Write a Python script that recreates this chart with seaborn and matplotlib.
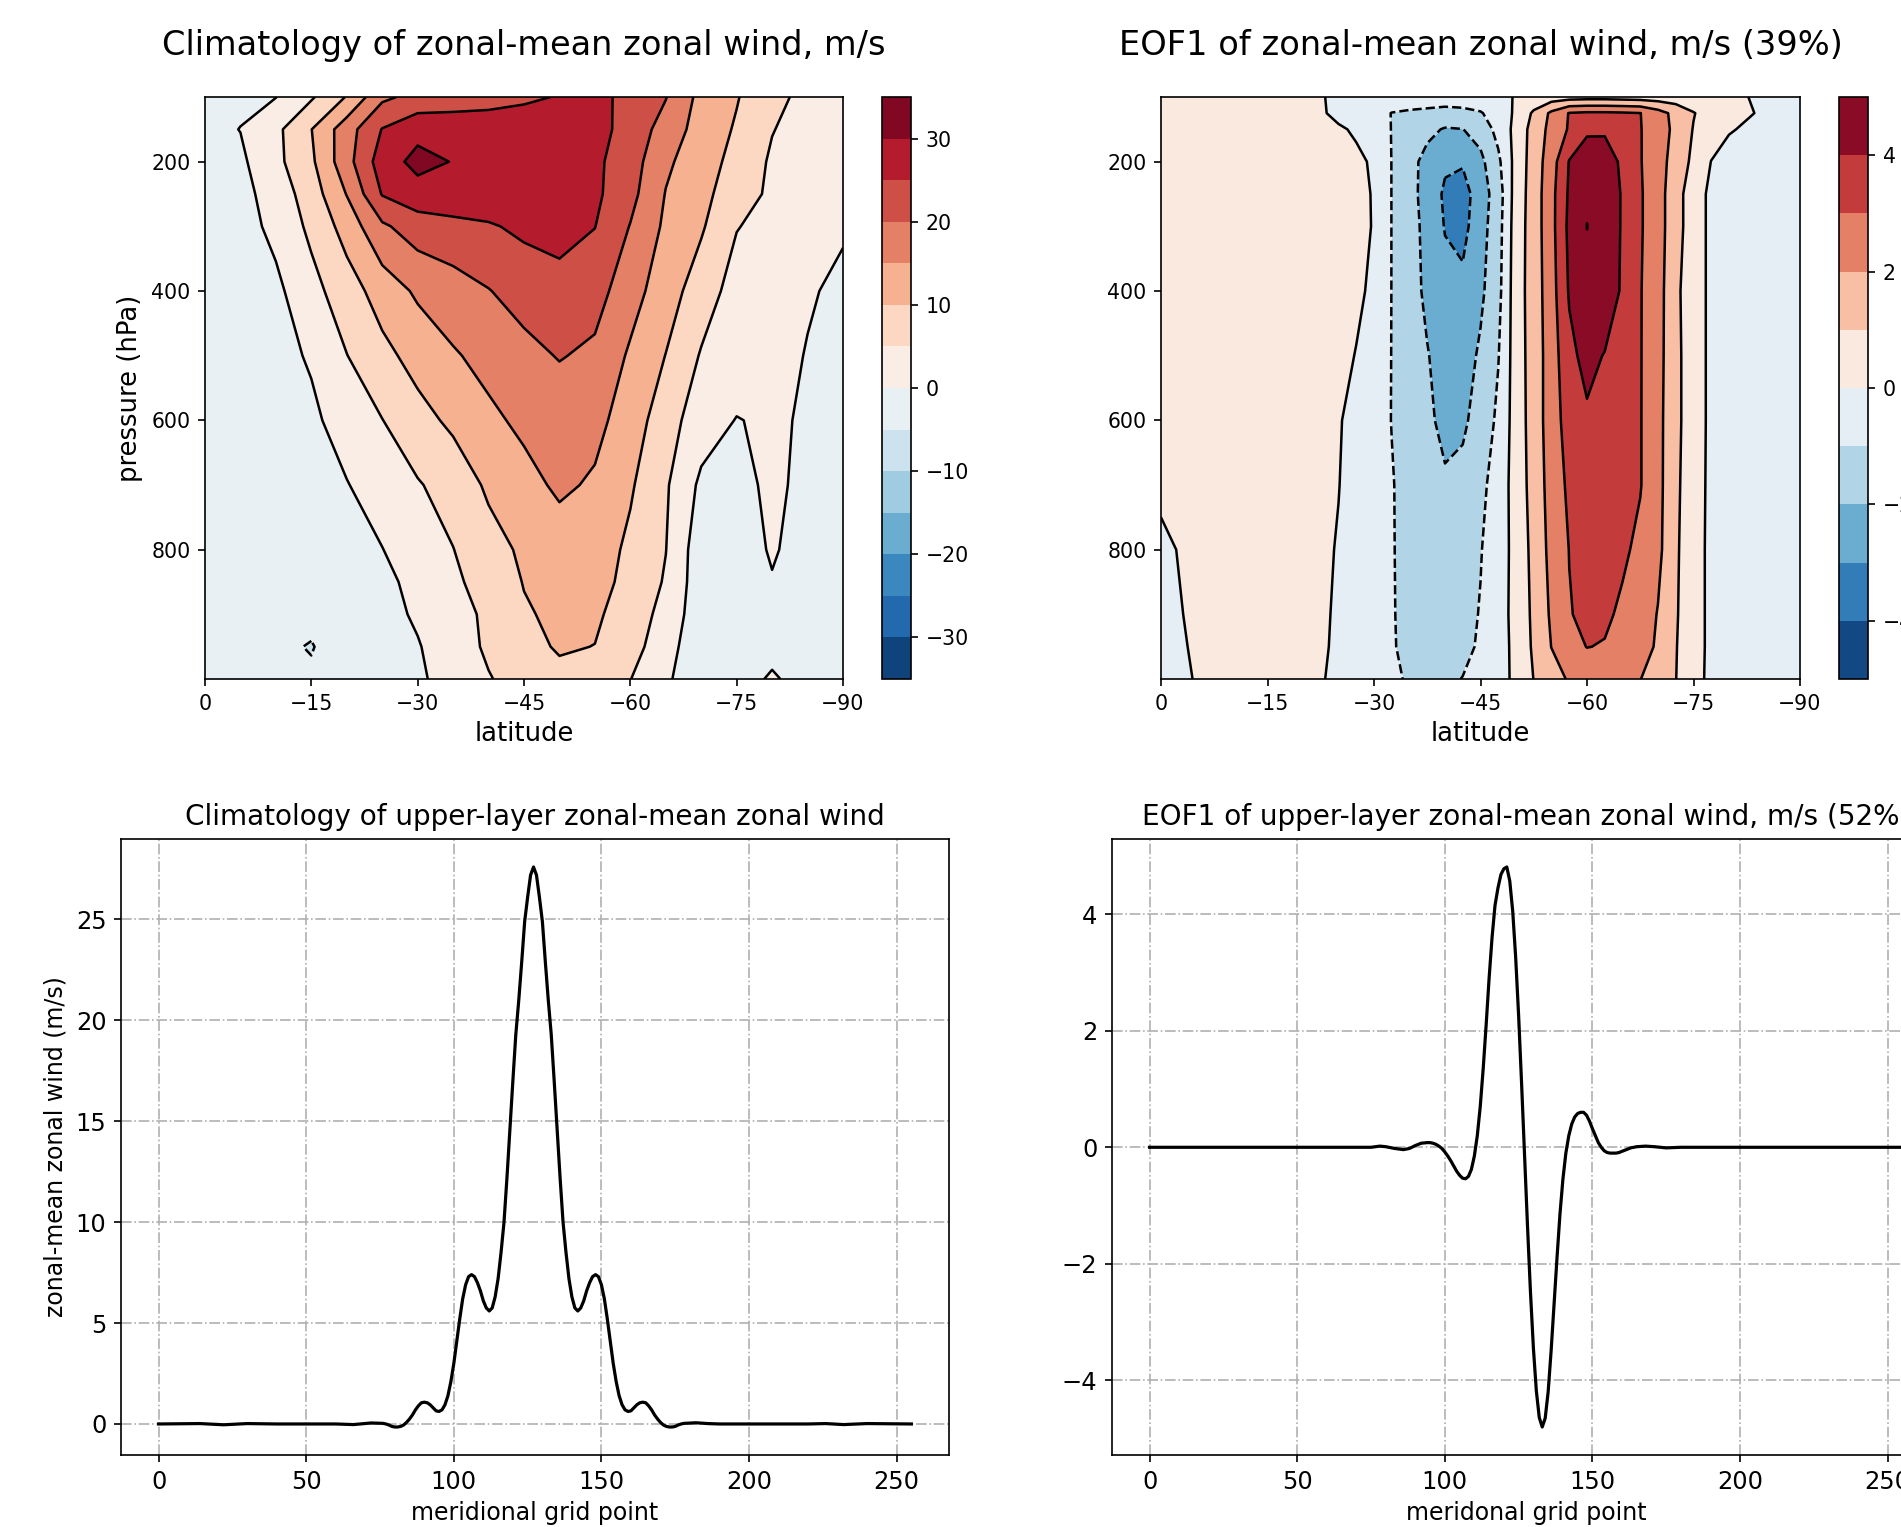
import matplotlib
matplotlib.use("Agg")
import matplotlib.pyplot as plt
import seaborn as sns

# climatology of zonal-mean zonal wind (m/s), rows = pressure, cols = latitude
clim_lat = [0, -5, -10, -15, -20, -25, -30, -35, -40, -45, -50, -55, -60, -65, -70, -75, -80, -85, -90]
clim_p = [100, 150, 200, 250, 300, 400, 500, 600, 700, 800, 850, 900, 950, 1000]
clim_u = [
    [-2.0, -1.0, -0.1, 4.4, 10.3, 19.0, 21.5, 22.0, 23.0, 24.1, 25.3, 26.0, 24.0, 20.2, 13.5, 10.3, 6.5, 3.5, 2.0],
    [-1.5, 0.1, 3.8, 9.9, 17.8, 25.2, 28.5, 28.5, 28.0, 28.0, 28.0, 27.0, 22.9, 18.1, 12.8, 9.5, 5.2, 3.0, 1.5],
    [-2.5, -0.9, 3.7, 9.1, 18.2, 27.5, 31.5, 29.8, 28.5, 28.0, 27.5, 26.0, 22.3, 15.9, 12.15, 8.5, 4.3, 2.5, 1.0],
    [-3.0, -1.5, 2.1, 7.5, 15.2, 25.3, 28.0, 28.5, 28.2, 28.0, 27.5, 26.0, 21.5, 14.8, 11.3, 7.5, 4.0, 2.2, 0.8],
    [-3.5, -2.0, 1.3, 6.1, 12.0, 19.2, 22.5, 23.5, 24.5, 26.0, 26.5, 25.1, 19.8, 14.1, 10.6, 5.2, 3.5, 1.8, 0.4],
    [-4.0, -2.8, -1.1, 3.4, 7.7, 12.2, 15.8, 17.8, 19.8, 22.0, 23.5, 22.0, 17.0, 12.3, 7.5, 3.0, 2.2, 0.4, -0.8],
    [-4.5, -3.3, -1.5, 0.5, 4.9, 8.6, 11.8, 14.5, 16.5, 18.5, 20.3, 19.0, 14.3, 9.9, 4.6, 3.0, 1.4, -0.2, -1.5],
    [-4.8, -3.8, -2.2, -0.9, 2.0, 4.9, 8.3, 11.0, 14.0, 16.0, 17.0, 16.3, 12.8, 7.0, 2.5, -0.2, 0.8, -0.6, -1.8],
    [-4.8, -4.2, -3.0, -1.8, -0.2, 2.2, 4.6, 7.0, 10.8, 13.5, 15.8, 14.4, 10.6, 5.6, -1.0, -1.2, 0.8, -1.0, -2.0],
    [-4.8, -4.5, -3.8, -2.8, -1.3, -0.1, 2.5, 4.9, 8.2, 10.8, 12.8, 12.5, 9.0, 5.1, -3.0, -2.5, 0.5, -2.0, -2.5],
    [-4.8, -4.8, -4.2, -3.5, -2.3, -1.2, 1.4, 4.1, 7.0, 10.2, 11.8, 11.5, 8.8, 4.5, -3.0, -2.8, -0.3, -2.5, -3.0],
    [-4.8, -4.8, -4.5, -4.3, -3.0, -1.5, 0.6, 3.0, 6.0, 9.5, 11.0, 11.0, 7.0, 3.8, -3.5, -3.5, -2.0, -3.0, -3.5],
    [-4.8, -4.8, -4.5, -5.15, -3.5, -1.8, -0.3, 2.5, 5.8, 8.2, 10.6, 9.9, 7.0, 2.0, -3.5, -3.5, -2.5, -3.2, -3.5],
    [-4.8, -4.8, -4.7, -4.6, -3.8, -2.3, -0.8, 2.0, 4.7, 7.0, 8.5, 8.6, 5.1, 0.8, -3.5, -3.5, 1.0, -3.3, -3.5],
]
clim_levels = [-35, -30, -25, -20, -15, -10, -5, 0, 5, 10, 15, 20, 25, 30, 35]
clim_ticks = [-30, -20, -10, 0, 10, 20, 30]

# EOF1 of zonal-mean zonal wind (m/s)
eof_lat = [0, -5, -10, -15, -20, -22.5, -25, -27.5, -30, -32.5, -35, -37.5, -40, -42.5, -45, -47.5,
           -50, -52.5, -55, -57.5, -60, -62.5, -65, -67.5, -70, -72.5, -75, -77.5, -80, -85, -90]
eof_p = [100, 125, 150, 200, 250, 300, 400, 500, 600, 700, 800, 900, 950, 1000]
eof_u = [
    [0.3, 0.4, 0.5, 0.5, 0.3, 0.05, -0.15, -0.3, -0.4, -0.5, -0.6, -0.65, -0.7, -0.7, -0.6, -0.4,
     0.1, 0.35, 0.5, 0.6, 0.65, 0.65, 0.6, 0.55, 0.5, 0.45, 0.35, 0.25, 0.12, -0.1, -0.15],
    [0.3, 0.4, 0.5, 0.5, 0.3, 0.1, -0.2, -0.45, -0.7, -1.02, -1.1, -1.15, -1.2, -1.15, -1.05, -0.7,
     0.2, 1.15, 2.2, 3.05, 3.15, 3.15, 3.1, 3.02, 2.4, 1.7, 1.05, 0.55, 0.25, -0.1, -0.15],
    [0.3, 0.4, 0.5, 0.5, 0.35, 0.2, 0.1, -0.1, -0.6, -1.02, -1.4, -1.7, -2.1, -2.02, -1.6, -0.7,
     0.3, 1.4, 2.3, 3.1, 3.8, 3.85, 3.6, 3.05, 2.4, 1.8, 0.95, 0.5, 0.05, -0.2, -0.2],
    [0.3, 0.4, 0.5, 0.5, 0.4, 0.3, 0.2, 0.15, -0.1, -1.02, -1.6, -2.4, -2.85, -2.9, -2.25, -1.2,
     0.35, 1.45, 2.55, 4.05, 4.7, 4.55, 3.8, 3.05, 2.45, 1.55, 0.8, -0.02, -0.25, -0.25, -0.2],
    [0.3, 0.4, 0.5, 0.5, 0.4, 0.3, 0.2, 0.12, -0.03, -1.02, -1.65, -2.4, -3.15, -3.4, -2.5, -1.5,
     0.45, 1.45, 2.7, 4.15, 4.95, 4.75, 3.9, 3.1, 2.4, 1.4, 0.45, -0.2, -0.3, -0.25, -0.2],
    [0.3, 0.4, 0.5, 0.5, 0.4, 0.3, 0.2, 0.1, -0.02, -1.02, -1.6, -2.3, -3.05, -3.3, -2.4, -1.4,
     0.5, 1.46, 2.69, 4.24, 5.005, 4.7, 3.9, 3.1, 2.4, 1.4, 0.45, -0.2, -0.3, -0.25, -0.2],
    [0.3, 0.4, 0.5, 0.5, 0.4, 0.3, 0.2, 0.1, -0.1, -1.02, -1.6, -2.2, -2.7, -2.75, -2.2, -1.3,
     0.55, 1.45, 2.6, 4.1, 4.9, 4.7, 3.85, 3.05, 2.4, 1.2, 0.45, -0.2, -0.3, -0.25, -0.2],
    [0.3, 0.4, 0.5, 0.5, 0.4, 0.3, 0.15, -0.02, -0.4, -1.02, -1.5, -1.95, -2.4, -2.45, -1.85, -1.05,
     0.5, 1.45, 2.5, 3.75, 4.3, 3.95, 3.6, 3.05, 2.35, 1.25, 0.45, -0.2, -0.3, -0.25, -0.2],
    [0.3, 0.4, 0.5, 0.5, 0.4, 0.25, 0.05, -0.2, -0.6, -1.02, -1.4, -1.85, -2.2, -2.15, -1.65, -0.8,
     0.45, 1.45, 2.5, 3.45, 3.85, 3.8, 3.55, 3.05, 2.3, 1.25, 0.45, -0.2, -0.3, -0.25, -0.2],
    [0.15, 0.35, 0.45, 0.45, 0.35, 0.2, 0.02, -0.3, -0.65, -0.95, -1.3, -1.6, -1.9, -1.75, -1.25, -0.55,
     0.4, 1.4, 2.4, 3.2, 3.5, 3.5, 3.4, 3.05, 2.3, 1.2, 0.4, -0.2, -0.3, -0.25, -0.2],
    [-0.15, 0.2, 0.4, 0.4, 0.3, 0.15, -0.05, -0.35, -0.65, -0.95, -1.25, -1.5, -1.65, -1.5, -1.05, -0.45,
     0.3, 1.3, 2.3, 3.02, 3.3, 3.3, 3.15, 2.8, 2.25, 1.15, 0.35, -0.2, -0.3, -0.25, -0.2],
    [-0.25, 0.15, 0.3, 0.35, 0.25, 0.12, -0.1, -0.4, -0.7, -0.95, -1.2, -1.4, -1.5, -1.3, -0.95, -0.4,
     0.3, 1.2, 2.15, 2.95, 3.2, 3.15, 2.85, 2.55, 1.95, 1.1, 0.35, -0.2, -0.3, -0.25, -0.2],
    [-0.3, 0.1, 0.25, 0.3, 0.2, 0.1, -0.12, -0.42, -0.72, -0.95, -1.15, -1.3, -1.35, -1.2, -0.9, -0.4,
     0.25, 1.15, 2.02, 2.7, 3.02, 2.95, 2.65, 2.3, 1.9, 1.05, 0.35, -0.2, -0.3, -0.25, -0.2],
    [-0.4, 0.05, 0.2, 0.25, 0.15, 0.05, -0.15, -0.45, -0.75, -0.92, -1.05, -1.15, -1.15, -0.98, -0.8, -0.35,
     0.2, 1.02, 1.6, 2.1, 2.4, 2.4, 2.2, 2.02, 1.55, 1.02, 0.3, -0.2, -0.3, -0.25, -0.2],
]
eof_levels = [-5, -4, -3, -2, -1, 0, 1, 2, 3, 4, 5]
eof_ticks = [-4, -2, 0, 2, 4]

lat_ticks = [0, -15, -30, -45, -60, -75, -90]
p_ticks = [200, 400, 600, 800]

# upper-layer climatology, by meridional grid point
clim_x = [0, 14, 22, 30, 40, 50, 60, 66, 72, 74] + list(range(76, 179)) + \
         [182, 186, 190, 200, 210, 220, 226, 232, 240, 255]
clim_y = [0.0, 0.02, -0.04, 0.02, 0.0, 0.0, 0.0, -0.03, 0.05, 0.04,
          0.03, 0.0, -0.05, -0.12, -0.15, -0.15, -0.12, -0.05, 0.08, 0.25,
          0.45, 0.7, 0.9, 1.05, 1.08, 1.05, 0.95, 0.8, 0.65, 0.62,
          0.7, 0.95, 1.4, 2.1, 3.0, 4.1, 5.2, 6.2, 6.9, 7.3,
          7.4, 7.3, 7.0, 6.6, 6.1, 5.75, 5.6, 5.75, 6.3, 7.2,
          8.5, 10.0, 12.2, 14.6, 17.0, 19.3, 21.0, 22.9, 24.9, 26.1,
          27.2, 27.6, 27.2, 26.1, 24.9, 22.9, 21.0, 19.3, 17.0, 14.6,
          12.2, 10.0, 8.5, 7.2, 6.3, 5.75, 5.6, 5.75, 6.1, 6.6,
          7.0, 7.3, 7.4, 7.3, 6.9, 6.2, 5.2, 4.1, 3.0, 2.1,
          1.4, 0.95, 0.7, 0.62, 0.65, 0.8, 0.95, 1.05, 1.08, 1.05,
          0.9, 0.7, 0.45, 0.25, 0.08, -0.05, -0.12, -0.15, -0.15, -0.12,
          -0.05, 0.0, 0.03,
          0.06, 0.02, 0.0, 0.0, 0.0, 0.0, 0.02, -0.03, 0.02, 0.0]

# upper-layer EOF1
eof_x = [0, 20, 40, 60, 70, 75, 78, 80, 83, 86, 88, 90, 92] + list(range(94, 166)) + \
        [168, 171, 175, 180, 200, 220, 240, 255]
eof_y = [0.0, 0.0, 0.0, 0.0, 0.0, 0.0, 0.02, 0.01, -0.02, -0.04, -0.02, 0.03, 0.07,
         0.08, 0.08, 0.07, 0.05, 0.02, -0.02, -0.08, -0.15, -0.23, -0.32,
         -0.41, -0.48, -0.53, -0.54, -0.5, -0.38, -0.15, 0.2, 0.7, 1.35,
         2.1, 2.9, 3.6, 4.15, 4.45, 4.68, 4.78, 4.81, 4.57, 4.05,
         3.26, 2.26, 1.1, -0.12, -1.34, -2.47, -3.44, -4.18, -4.64, -4.8,
         -4.65, -4.2, -3.5, -2.7, -1.9, -1.15, -0.55, -0.1, 0.2, 0.4,
         0.52, 0.58, 0.6, 0.6, 0.55, 0.45, 0.32, 0.2, 0.08, 0.0,
         -0.06, -0.09, -0.1, -0.1, -0.1, -0.09, -0.07, -0.05, -0.03, -0.01,
         0.0, 0.01,
         0.02, 0.01, -0.01, 0.0, 0.0, 0.0, 0.0, 0.0]

plt.rcParams.update({
    'axes.linewidth': 1.2,
    'xtick.major.size': 5.25, 'ytick.major.size': 5.25,
    'xtick.major.width': 1.2, 'ytick.major.width': 1.2,
    'xtick.major.pad': 5.25, 'ytick.major.pad': 5.25,
    'contour.negative_linestyle': 'dashed',
})

W, H = 1901, 1527
fig = plt.figure(figsize=(W / 100, H / 100), dpi=100)


def box(x0, y0, x1, y1):
    return [x0 / W, 1 - y1 / H, (x1 - x0) / W, (y1 - y0) / H]


cmap = sns.color_palette("RdBu_r", as_cmap=True)


def section(ax, cax, lat, p, u, levels, ticks, title, ylabel):
    cf = ax.contourf(lat, p, u, levels=levels, cmap=cmap)
    ax.contour(lat, p, u, levels=levels, colors='k', linewidths=1.8)
    ax.set_xlim(0, -90)
    ax.set_ylim(1000, 100)
    ax.set_xticks(lat_ticks)
    ax.set_yticks(p_ticks)
    ax.tick_params(labelsize=14.8)
    ax.set_xlabel('latitude', fontsize=18.6, labelpad=5)
    if ylabel:
        ax.set_ylabel(ylabel, fontsize=18.6, labelpad=6)
    ax.set_title(title, fontsize=24.2, pad=30)
    cb = fig.colorbar(cf, cax=cax, ticks=ticks)
    cb.ax.tick_params(labelsize=14.8)
    cb.outline.set_linewidth(1.2)


ax1 = fig.add_axes(box(205, 97, 843, 679))
cax1 = fig.add_axes(box(882, 97, 911, 679))
section(ax1, cax1, clim_lat, clim_p, clim_u, clim_levels, clim_ticks,
        'Climatology of zonal-mean zonal wind, m/s', 'pressure (hPa)')

ax2 = fig.add_axes(box(1161, 97, 1800, 679))
cax2 = fig.add_axes(box(1839, 97, 1868, 679))
section(ax2, cax2, eof_lat, eof_p, eof_u, eof_levels, eof_ticks,
        'EOF1 of zonal-mean zonal wind, m/s (39%)', None)


def profile(ax, x, y, title, xlabel, ylabel):
    sns.lineplot(x=x, y=y, ax=ax, color='k', linewidth=2.3)
    ax.grid(True, linestyle='-.', color='#b0b0b0', linewidth=1.2)
    ax.tick_params(labelsize=17.4)
    ax.set_xlabel(xlabel, fontsize=17, labelpad=5)
    if ylabel:
        ax.set_ylabel(ylabel, fontsize=17, labelpad=6)
    ax.set_title(title, fontsize=20.1, pad=10)


ax3 = fig.add_axes(box(121, 839, 949, 1455))
profile(ax3, clim_x, clim_y, 'Climatology of upper-layer zonal-mean zonal wind',
        'meridional grid point', 'zonal-mean zonal wind (m/s)')

ax4 = fig.add_axes(box(1112, 839, 1940, 1455))
profile(ax4, eof_x, eof_y, 'EOF1 of upper-layer zonal-mean zonal wind, m/s (52%)',
        'meridonal grid point', None)

fig.savefig('out.png', dpi=100)
